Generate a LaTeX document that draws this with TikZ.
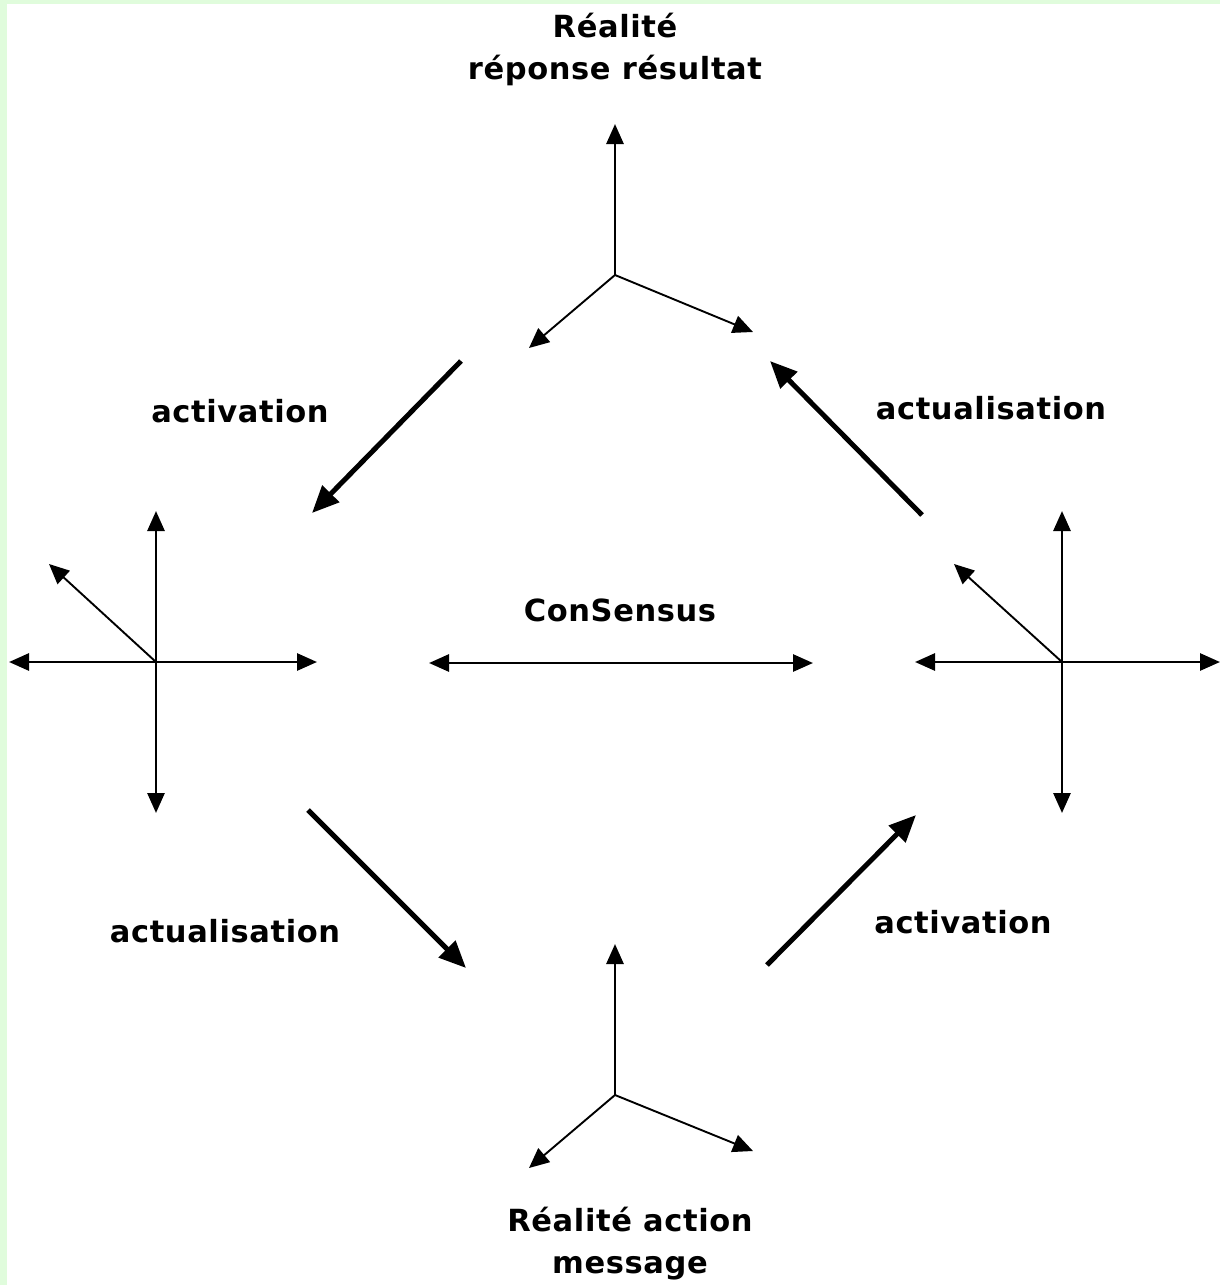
\documentclass[tikz,border=0pt]{standalone}
\usepackage{fontspec}
\newfontfamily\labfont{DejaVu Sans}[LetterSpace=2]
\usetikzlibrary{arrows.meta}
\definecolor{bordergreen}{RGB}{224,252,220}
\begin{document}
\begin{tikzpicture}[x=1pt,y=-1pt,
  lab/.style={font=\labfont\bfseries\fontsize{30.5}{42}\selectfont, align=center, inner sep=0pt},
  axis/.style={line width=2.8pt, -{Triangle[length=20pt,width=17pt]}},
  thinaxis/.style={line width=1.9pt, -{Triangle[length=20pt,width=18pt]}},
  flow/.style={line width=5pt, -{Triangle[length=27pt,width=23pt]}},
  bothaxis/.style={line width=2.8pt, {Triangle[length=20pt,width=17pt]}-{Triangle[length=20pt,width=17pt]}}]
\useasboundingbox (0,0) rectangle (1220,1285);
\fill[bordergreen] (0,0) rectangle (7,1285);
\fill[bordergreen] (0,0) rectangle (1220,4);

% top triad
\coordinate (tc) at (615,275);
\coordinate (tu) at (615,124);
\coordinate (tl) at (529,348);
\coordinate (tr) at (753,332);
\draw[axis] (tc) -- (tu);
\draw[thinaxis] (tc) -- (tl);
\draw[thinaxis] (tc) -- (tr);

% bottom triad
\coordinate (bc) at (615,1095);
\coordinate (bu) at (615,944);
\coordinate (bl) at (529,1168);
\coordinate (br) at (753,1151);
\draw[axis] (bc) -- (bu);
\draw[thinaxis] (bc) -- (bl);
\draw[thinaxis] (bc) -- (br);

% left cross
\coordinate (lc) at (156,662);
\coordinate (lu) at (156,511);
\coordinate (ld) at (156,813);
\coordinate (ll) at (9,662);
\coordinate (lr) at (317,662);
\coordinate (ldg) at (49,564);
\draw[axis] (lc) -- (lu);
\draw[axis] (lc) -- (ld);
\draw[axis] (lc) -- (ll);
\draw[axis] (lc) -- (lr);
\draw[thinaxis] (lc) -- (ldg);

% right cross
\coordinate (rc) at (1062,662);
\coordinate (ru) at (1062,511);
\coordinate (rd) at (1062,813);
\coordinate (rl) at (915,662);
\coordinate (rr) at (1220,662);
\coordinate (rdg) at (954,564);
\draw[axis] (rc) -- (ru);
\draw[axis] (rc) -- (rd);
\draw[axis] (rc) -- (rl);
\draw[axis] (rc) -- (rr);
\draw[thinaxis] (rc) -- (rdg);

% consensus
\coordinate (cl) at (429,663);
\coordinate (cr) at (813,663);
\draw[bothaxis] (cl) -- (cr);
\node[lab] (cons) at (620,610) {ConSensus};

% flow arrows
\coordinate (f1s) at (461,361);
\coordinate (f1e) at (312,513);
\coordinate (f2s) at (922,515);
\coordinate (f2e) at (770,361);
\coordinate (f3s) at (308,810);
\coordinate (f3e) at (466,968);
\coordinate (f4s) at (767,965);
\coordinate (f4e) at (916,815);
\draw[flow] (f1s) -- (f1e);
\draw[flow] (f2s) -- (f2e);
\draw[flow] (f3s) -- (f3e);
\draw[flow] (f4s) -- (f4e);

% labels
\node[lab] (top) at (615,49) {Réalité\\réponse résultat};
\node[lab] (bot) at (630,1244) {Réalité action\\message};
\node[lab] (act1) at (240,411) {activation};
\node[lab] (actu1) at (991,408) {actualisation};
\node[lab] (actu2) at (225,931) {actualisation};
\node[lab] (act2) at (963,922) {activation};
\end{tikzpicture}
\end{document}
